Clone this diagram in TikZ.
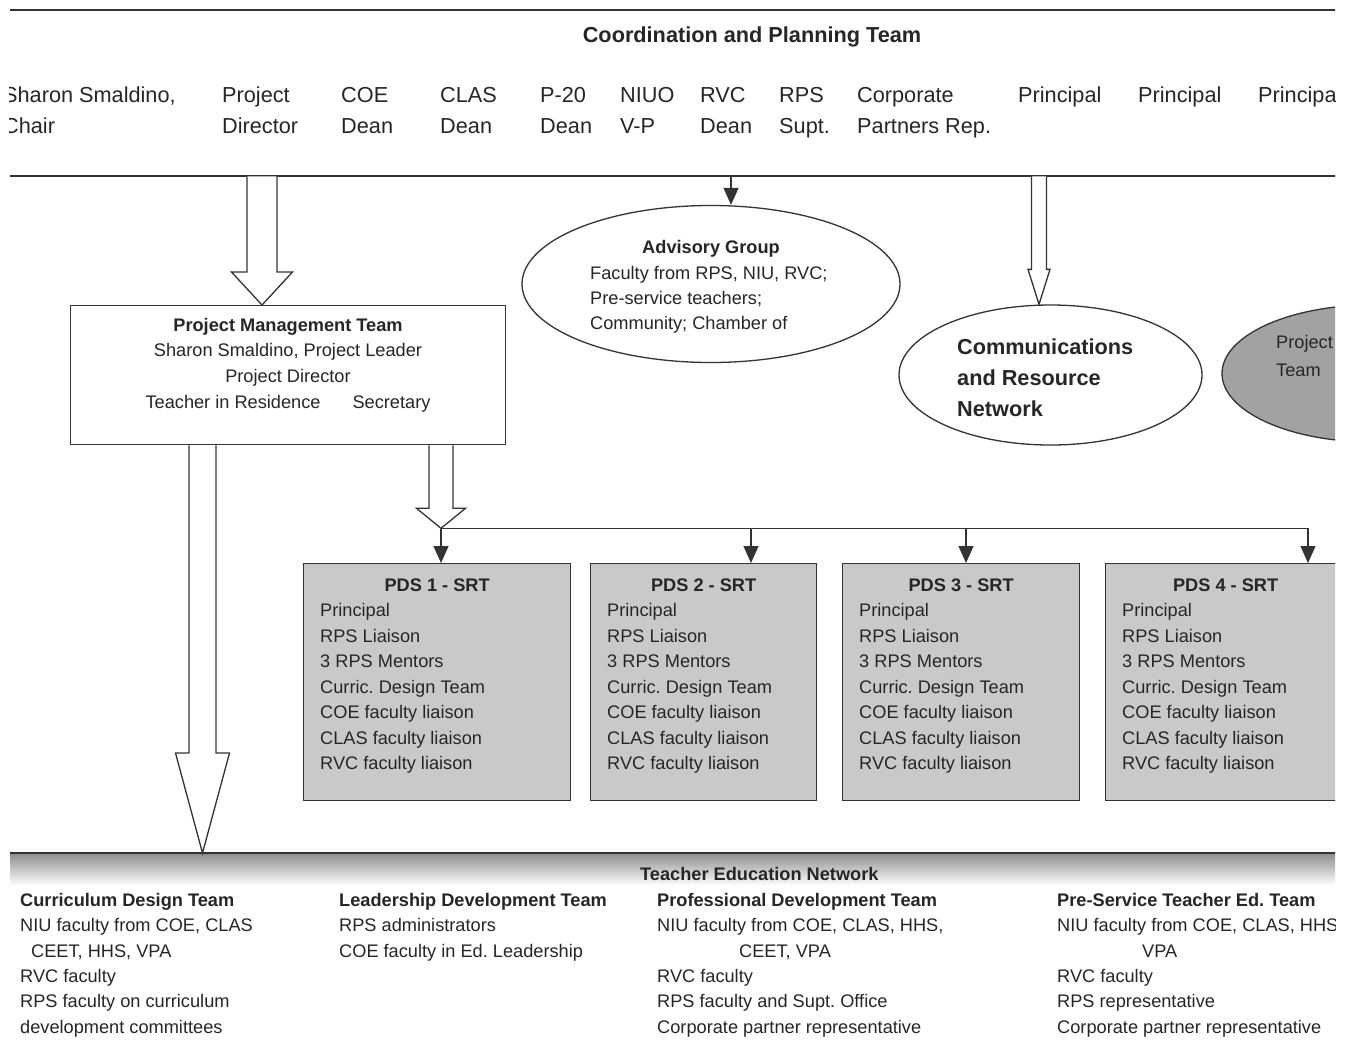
\documentclass[tikz,border=0pt]{standalone}
\usepackage{fontspec}
\setmainfont{Liberation Sans}
\usetikzlibrary{arrows.meta,shapes.geometric,calc}
\definecolor{ink}{HTML}{262626}
\definecolor{edge}{HTML}{333333}
\definecolor{pdsfill}{HTML}{C9C9C9}
\definecolor{ptfill}{HTML}{A2A2A2}
\frenchspacing
\newcommand{\hollowarrow}[5]{%
  \draw[hollow] ($(#1)+(-#3,0)$) -- ($(#2)+(-#3,-#5)$) -- ($(#2)+(-#4,-#5)$) -- (#2)
    -- ($(#2)+(#4,-#5)$) -- ($(#2)+(#3,-#5)$) -- ($(#1)+(#3,0)$);}
\tikzset{
  lbl/.style={inner sep=0pt, text=ink, align=left},
  big/.style={lbl, font=\fontsize{21.7pt}{31pt}\selectfont},
  bigb/.style={lbl, font=\fontsize{21.7pt}{31pt}\selectfont\bfseries},
  sml/.style={lbl, font=\fontsize{18.2pt}{25.4pt}\selectfont},
  smlb/.style={lbl, font=\fontsize{18.2pt}{25.4pt}\selectfont\bfseries},
  bandline/.style={draw=edge, line width=2pt},
  hollow/.style={draw=edge, line width=1.3pt, fill=white, line join=miter},
  arr/.style={draw=edge, line width=1.2pt, -{Triangle[width=15pt,length=17pt]}},
  busline/.style={draw=edge, line width=1.2pt},
  plainbox/.style={draw=edge, line width=1.3pt, inner sep=0pt},
  pdsbox/.style={plainbox, fill=pdsfill, minimum height=237pt, anchor=north west},
  oval/.style={ellipse, draw=edge, line width=1.3pt, inner sep=0pt},
}
\begin{document}
\frenchspacing
\begin{tikzpicture}[x=1pt,y=-1pt]
\fill[white] (0,0) rectangle (1348,1041);
\useasboundingbox (0,0) rectangle (1348,1041);
\begin{scope}
\clip (9,0) rectangle (1335,1036);

% Coordination and Planning Team band
\node[inner sep=0pt, minimum width=1335pt, minimum height=166pt, anchor=north west] (cpband) at (10,10) {};
\draw[bandline] (cpband.north west) -- (cpband.north east);
\draw[bandline] (cpband.south west) -- (cpband.south east);
\node[bigb, anchor=base] (cpt) at (752,42) {Coordination and Planning Team};

% (multi-line nodes: base anchor = baseline of last line)
\node[big, anchor=base west] (m1) at (3,133) {Sharon Smaldino,\\Chair};
\node[big, anchor=base west] (m2) at (222,133) {Project\\Director};
\node[big, anchor=base west] (m3) at (341,133) {COE\\Dean};
\node[big, anchor=base west] (m4) at (440,133) {CLAS\\Dean};
\node[big, anchor=base west] (m5) at (540,133) {P-20\\Dean};
\node[big, anchor=base west] (m6) at (620,133) {NIUO\\V-P};
\node[big, anchor=base west] (m7) at (700,133) {RVC\\Dean};
\node[big, anchor=base west] (m8) at (779,133) {RPS\\Supt.};
\node[big, anchor=base west] (m9) at (857,133) {Corporate\\Partners Rep.};
\node[big, anchor=base west] (m10) at (1018,102) {Principal};
\node[big, anchor=base west] (m11) at (1138,102) {Principal};
\node[big, anchor=base west] (m12) at (1258,102) {Principal};

% Advisory group
\node[oval, minimum width=378pt, minimum height=157pt] (adv) at (711,284) {};
\node[smlb, anchor=base] (advt) at (711,253.5) {Advisory Group};
\node[sml, anchor=base west, font=\fontsize{18.2pt}{25pt}\selectfont] (advb) at (590,329.5) {Faculty from RPS, NIU, RVC;\\Pre-service teachers;\\Community; Chamber of};
\coordinate (advin) at ($(adv.north)+(20,0)$);
\draw[arr] (advin |- cpband.south) -- (advin);

% Project management team
\node[plainbox, minimum width=435pt, minimum height=139pt, anchor=north west] (pmt) at (70,305) {};
\node[smlb, anchor=base] (pmtt) at (288,331.5) {Project Management Team};
\node[sml, anchor=base, align=center, font=\fontsize{18.2pt}{26pt}\selectfont] (pmtb) at (288,408.5) {Sharon Smaldino, Project Leader\\Project Director\\Teacher in Residence\hspace{32pt}Secretary};

% Communications and resource network
\node[oval, minimum width=303pt, minimum height=140pt] (comm) at (1050.5,375) {};
\node[bigb, anchor=base west] (commt) at (957,416) {Communications\\and Resource\\Network};

% Project team (cut off)
\node[oval, fill=ptfill, minimum width=300pt, minimum height=137pt] (pteam) at (1372,373.5) {};
\node[sml, anchor=base west, font=\fontsize{18.2pt}{28pt}\selectfont] (ptt) at (1276,376.5) {Project\\Team};

% PDS boxes
\node[pdsbox, minimum width=267pt] (pds1) at (303,563) {};
\node[pdsbox, minimum width=226pt] (pds2) at (590,563) {};
\node[pdsbox, minimum width=237pt] (pds3) at (842,563) {};
\node[pdsbox, minimum width=240pt] (pds4) at (1105,563) {};
\foreach \i in {1,...,4} {
  \node[smlb, anchor=base] (pdst\i) at ($(pds\i.north)+(0,28.5)$) {PDS \i\ - SRT};
  \node[sml, anchor=base west, font=\fontsize{18.2pt}{25.5pt}\selectfont] (pdsb\i) at ($(pds\i.north west)+(17,206.5)$) {Principal\\RPS Liaison\\3 RPS Mentors\\Curric. Design Team\\COE faculty liaison\\CLAS faculty liaison\\RVC faculty liaison};
}

% Teacher Education Network band
\node[inner sep=0pt, minimum width=1335pt, minimum height=32pt, anchor=north west] (ten) at (10,853) {};
\shade[top color=black!45, bottom color=white] (ten.north west) rectangle (ten.south east);

% hollow arrows
\coordinate (a1s) at ($(cpband.south west)+(252,0)$);
\coordinate (a1e) at (a1s |- pmt.north);
\hollowarrow{a1s}{a1e}{15}{30.5}{33}
\coordinate (a2s) at ($(cpband.south west)+(1029,0)$);
\coordinate (a2e) at (a2s |- comm.north);
\hollowarrow{a2s}{a2e}{7.5}{11}{35}
\coordinate (a3s) at ($(pmt.south west)+(132.5,0)$);
\coordinate (a3e) at (a3s |- ten.north);
\hollowarrow{a3s}{a3e}{13.5}{27}{100}
\coordinate (a4s) at ($(pmt.south west)+(371,0)$);
\coordinate (a4e) at ($(a4s)+(0,83)$);
\hollowarrow{a4s}{a4e}{12}{24.5}{20}

% bus to PDS boxes
\coordinate (b2) at ($(a4e)+(310,0)$);
\coordinate (b3) at ($(a4e)+(525,0)$);
\coordinate (b4) at ($(a4e)+(867,0)$);
\draw[busline] (a4e) -- (b4);
\draw[arr] (a4e) -- (a4e |- pds1.north);
\draw[arr] (b2) -- (b2 |- pds2.north);
\draw[arr] (b3) -- (b3 |- pds3.north);
\draw[arr] (b4) -- (b4 |- pds4.north);

\draw[bandline] (ten.north west) -- (ten.north east);
\node[smlb, anchor=base west] (tent) at (640,880.5) {Teacher Education Network};

% bottom columns
\node[sml, anchor=base west, font=\fontsize{18.2pt}{25.3pt}\selectfont] (col1) at (20,1033) {\textbf{Curriculum Design Team}\\NIU faculty from COE, CLAS\\\hspace*{11pt}CEET, HHS, VPA\\RVC faculty\\RPS faculty on curriculum\\development committees};
\node[sml, anchor=base west, font=\fontsize{18.2pt}{25.3pt}\selectfont] (col2) at (339,957.1) {\textbf{Leadership Development Team}\\RPS administrators\\COE faculty in Ed. Leadership};
\node[sml, anchor=base west, font=\fontsize{18.2pt}{25.3pt}\selectfont] (col3) at (657,1033) {\textbf{Professional Development Team}\\NIU faculty from COE, CLAS, HHS,\\\hspace*{82pt}CEET, VPA\\RVC faculty\\RPS faculty and Supt. Office\\Corporate partner representative};
\node[sml, anchor=base west, font=\fontsize{18.2pt}{25.3pt}\selectfont] (col4) at (1057,1033) {\textbf{Pre-Service Teacher Ed. Team}\\NIU faculty from COE, CLAS, HHS,\\\hspace*{85pt}VPA\\RVC faculty\\RPS representative\\Corporate partner representative};
\end{scope}
\end{tikzpicture}
\end{document}
